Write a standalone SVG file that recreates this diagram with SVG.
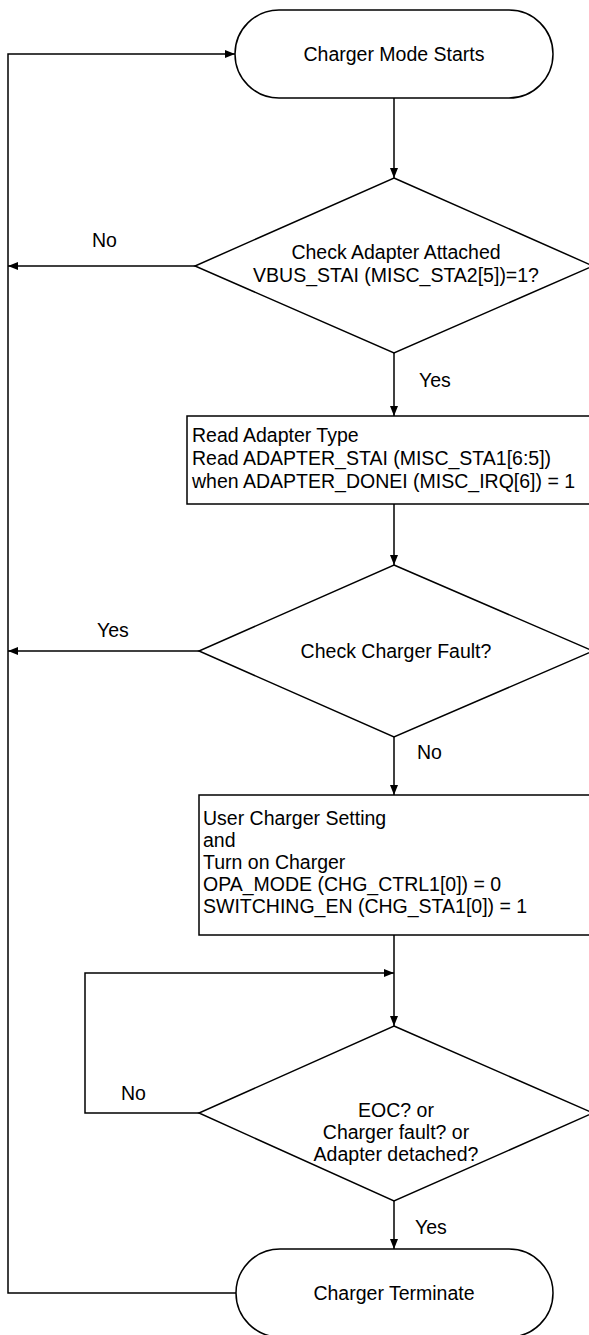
<svg xmlns="http://www.w3.org/2000/svg" width="589" height="1335" viewBox="0 0 589 1335">
<style>
.s{fill:#fff;stroke:#000;stroke-width:1.5}
.t{font-family:"Liberation Sans",Arial,sans-serif;font-size:19.5px;fill:#000}
.c{text-anchor:middle}
.l{fill:none;stroke:#000;stroke-width:1.5}
</style>
<defs>
<marker id="a" markerWidth="10" markerHeight="8" refX="10" refY="4" orient="auto" markerUnits="userSpaceOnUse"><path d="M0,0L10,4L0,8z" fill="#000"/></marker>
</defs>
<rect width="589" height="1335" fill="#fff"/>
<g id="start"><rect class="s" x="235" y="10" width="318" height="88" rx="44"/><text class="t c" x="394" y="61">Charger Mode Starts</text></g>
<g id="d1"><polygon class="s" points="394,178 593,266 394,353 195,266"/><text class="t c" x="396" y="259">Check Adapter Attached</text><text class="t c" x="396" y="282">VBUS_STAI (MISC_STA2[5])=1?</text></g>
<g id="r1"><rect class="s" x="187" y="416" width="410" height="88"/><text class="t" x="192" y="442">Read Adapter Type</text><text class="t" x="192" y="465">Read ADAPTER_STAI (MISC_STA1[6:5])</text><text class="t" x="192" y="488">when ADAPTER_DONEI (MISC_IRQ[6]) = 1</text></g>
<g id="d2"><polygon class="s" points="394,565 593,651 394,737 199,651"/><text class="t c" x="396" y="658">Check Charger Fault?</text></g>
<g id="r2"><rect class="s" x="199" y="795" width="400" height="140"/><text class="t" x="203" y="825">User Charger Setting</text><text class="t" x="203" y="847">and</text><text class="t" x="203" y="869">Turn on Charger</text><text class="t" x="203" y="891">OPA_MODE (CHG_CTRL1[0]) = 0</text><text class="t" x="203" y="913">SWITCHING_EN (CHG_STA1[0]) = 1</text></g>
<g id="d3"><polygon class="s" points="394,1026 593,1113 394,1201 199,1113"/><text class="t c" x="396" y="1117">EOC? or</text><text class="t c" x="396" y="1139">Charger fault? or</text><text class="t c" x="396" y="1161">Adapter detached?</text></g>
<g id="end"><rect class="s" x="236" y="1249" width="317" height="88" rx="44"/><text class="t c" x="394" y="1300">Charger Terminate</text></g>
<g id="connectors">
<path class="l" d="M394,98V178" marker-end="url(#a)"/>
<path class="l" d="M195,266H8" marker-end="url(#a)"/>
<path class="l" d="M394,353V416" marker-end="url(#a)"/>
<path class="l" d="M394,504V565" marker-end="url(#a)"/>
<path class="l" d="M199,651H8" marker-end="url(#a)"/>
<path class="l" d="M394,737V795" marker-end="url(#a)"/>
<path class="l" d="M394,935V1026" marker-end="url(#a)"/>
<path class="l" d="M199,1113H85V973H394" marker-end="url(#a)"/>
<path class="l" d="M394,1201V1249" marker-end="url(#a)"/>
<path class="l" d="M236,1293H8V54H235" marker-end="url(#a)"/>
<text class="t" x="92" y="247">No</text>
<text class="t" x="419" y="387">Yes</text>
<text class="t" x="97" y="637">Yes</text>
<text class="t" x="417" y="759">No</text>
<text class="t" x="121" y="1100">No</text>
<text class="t" x="415" y="1234">Yes</text>
</g>
</svg>
